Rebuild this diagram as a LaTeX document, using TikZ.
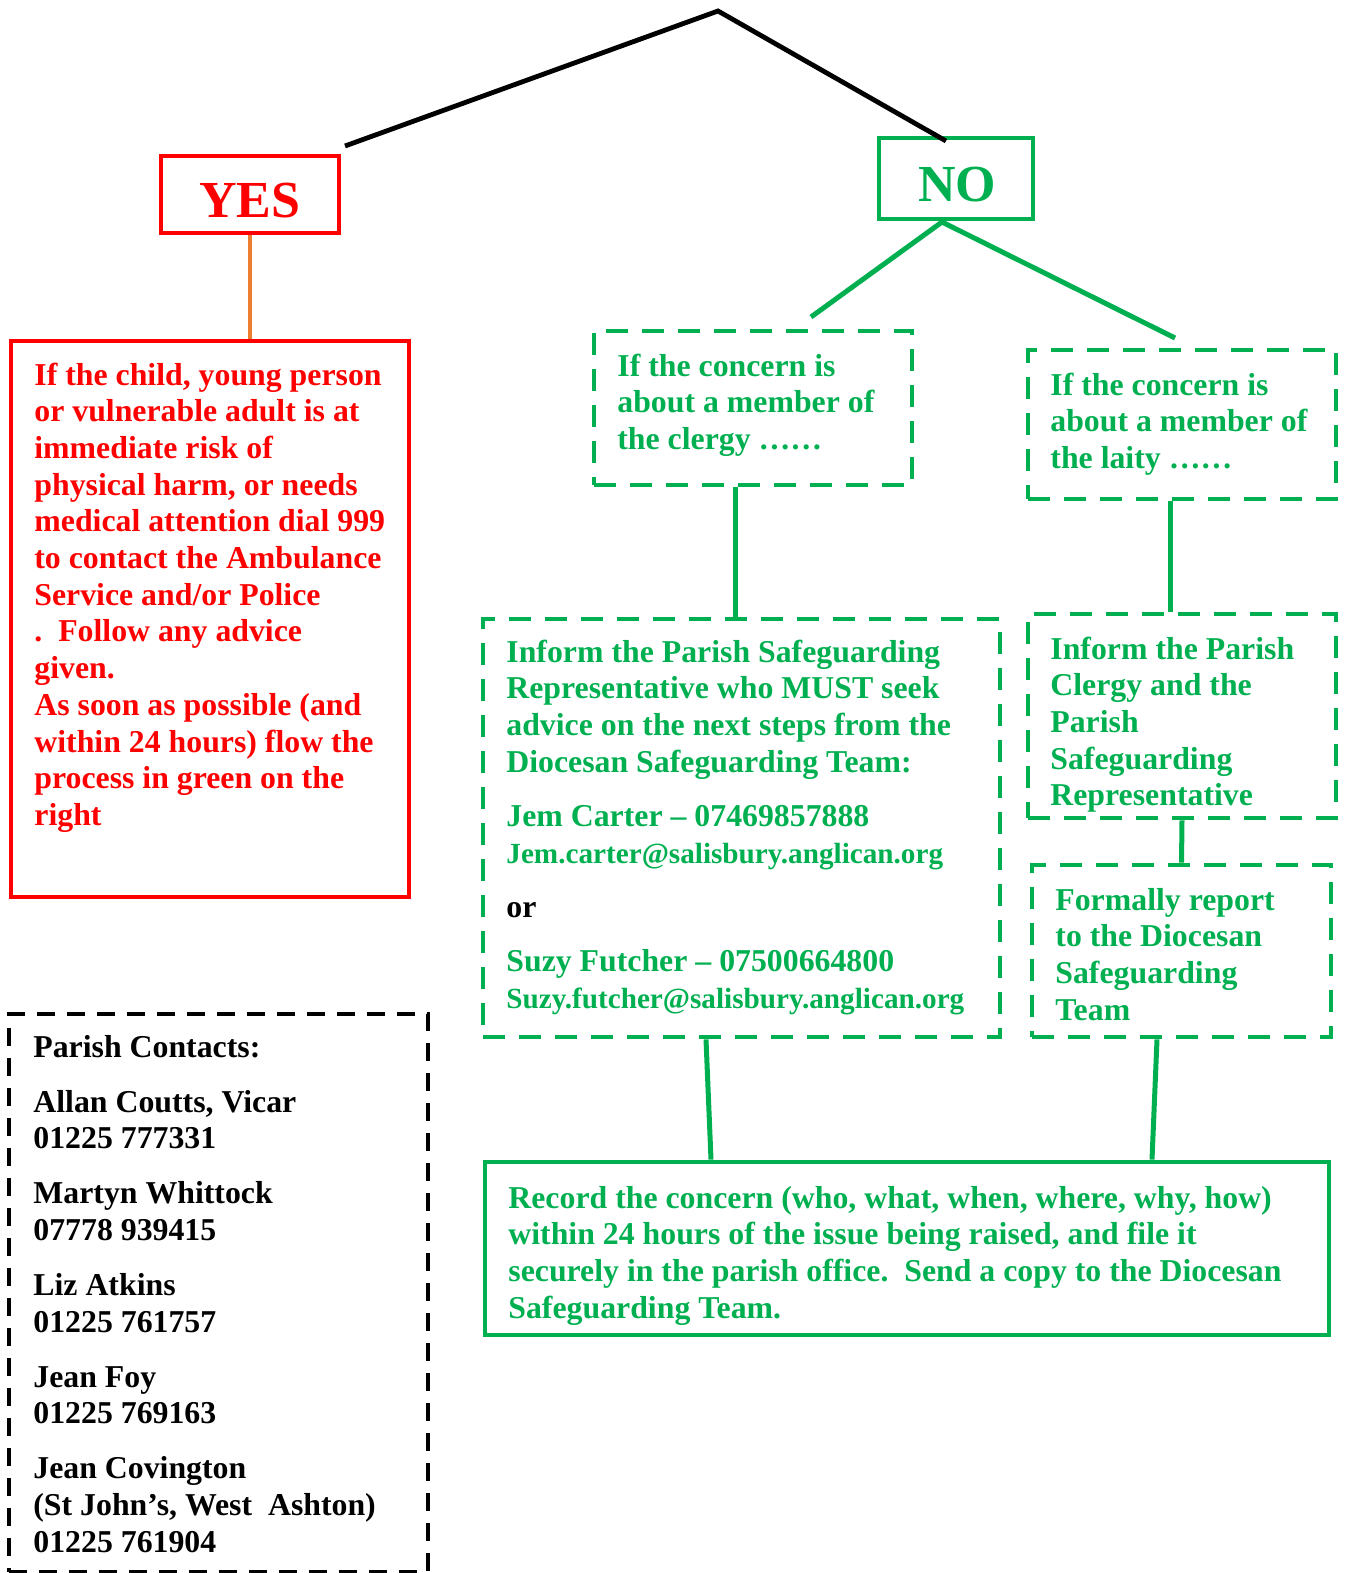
\documentclass[tikz,border=0pt]{standalone}
\usepackage{fontspec}
\setmainfont{Liberation Serif}
\usetikzlibrary{fit}

\definecolor{wgreen}{RGB}{0,176,80}
\definecolor{worange}{RGB}{237,125,49}
\newcommand\bodyfont{\bfseries\fontsize{15.9}{18.35}\selectfont}
\newcommand\mailfont{\fontsize{14.6}{18.35}\selectfont}
\newcommand\bigfont{\bfseries\fontsize{26}{30}\selectfont}

\begin{document}
\begin{tikzpicture}[x=0.5pt, y=-0.5pt,
  redbox/.style={draw=red, line width=2.4pt, inner sep=0pt},
  greenbox/.style={draw=wgreen, line width=2.4pt, inner sep=0pt},
  greendash/.style={greenbox, dash pattern=on 11pt off 7pt},
  blackdash/.style={draw=black, line width=2.4pt, inner sep=0pt, dash pattern=on 9pt off 6pt},
  txt/.style={anchor=base west, inner sep=0pt, align=left, font=\bodyfont},
  greenline/.style={draw=wgreen, line width=2.5pt}]

\useasboundingbox (0,0) rectangle (1351,1573);

% question boxes
\node[redbox, fit={(161,156) (339,233)}] (yes) {};
\node[anchor=base, inner sep=0pt, font=\bigfont, text=red] (yestxt) at (250,218) {YES};
\node[greenbox, fit={(879,138) (1033,219)}] (no) {};
\node[anchor=base, inner sep=0pt, font=\bigfont, text=wgreen] (notxt) at (957,202) {NO};

% yes side (text placed by its last baseline)
\node[redbox, fit={(11,341) (409,897)}] (risk) {};
\node[txt, text=red] (risktxt) at (34,825.4) {If the child, young person\\or vulnerable adult is at\\immediate risk of\\physical harm, or needs\\medical attention dial 999\\to contact the Ambulance\\Service and/or Police\\.\ \ Follow any advice\\given.\\As soon as possible (and\\within 24 hours) flow the\\process in green on the\\right};

% no side
\node[greendash, fit={(594,331) (912,485)}] (clergy) {};
\node[txt, text=wgreen] (clergytxt) at (617,449.4) {If the concern is\\about a member of\\the clergy ……};
\node[greendash, fit={(1028,350) (1336,499)}] (laity) {};
\node[txt, text=wgreen] (laitytxt) at (1050,468.4) {If the concern is\\about a member of\\the laity ……};

\node[greendash, fit={(483,619) (1000,1037)}] (inform) {};
\node[txt, text=wgreen] (informtxt) at (506,1008) {Inform the Parish Safeguarding\\Representative who MUST seek\\advice on the next steps from the\\Diocesan Safeguarding Team:\\[8.7pt]Jem Carter -- 07469857888\\{\mailfont Jem.carter@salisbury.anglican.org}\\[8.7pt]{\color{black}or}\\[8.7pt]Suzy Futcher -- 07500664800\\{\mailfont Suzy.futcher@salisbury.anglican.org}};

\node[greendash, fit={(1028,614) (1336,818)}] (parish) {};
\node[txt, text=wgreen] (parishtxt) at (1050,805.8) {Inform the Parish\\Clergy and the\\Parish\\Safeguarding\\Representative};
\node[greendash, fit={(1032,865) (1331,1037)}] (formal) {};
\node[txt, text=wgreen] (formaltxt) at (1055,1020.1) {Formally report\\to the Diocesan\\Safeguarding\\Team};

\node[greenbox, fit={(485,1162) (1329,1335)}] (record) {};
\node[txt, text=wgreen] (recordtxt) at (508,1318.1) {Record the concern (who, what, when, where, why, how)\\within 24 hours of the issue being raised, and file it\\securely in the parish office.\ \ Send a copy to the Diocesan\\Safeguarding Team.};

% contacts
\node[blackdash, fit={(9,1014) (428,1572)}] (contacts) {};
\node[txt] (contactstxt) at (33,1552.2) {Parish Contacts:\\[9.15pt]Allan Coutts, Vicar\\01225 777331\\[9.15pt]Martyn Whittock\\07778 939415\\[9.15pt]Liz Atkins\\01225 761757\\[9.15pt]Jean Foy\\01225 769163\\[9.15pt]Jean Covington\\(St John’s, West\ \ Ashton)\\01225 761904};

% connectors
\coordinate (apex) at (718,11);
\coordinate (yesend) at (345,146);
\coordinate (noend) at (946,141);
\draw[line width=2.4pt] (yesend) -- (apex) -- (noend);
\draw[worange, line width=1.6pt] (yes.south) -- (yes.south |- risk.north);

\coordinate (nofoot) at (942,222);
\coordinate (clergyin) at (811,317);
\coordinate (laityin) at (1175,338);
\draw[greenline] (clergyin) -- (nofoot) -- (laityin);

\coordinate (clergycol) at (735,0);
\coordinate (laitycol) at (1170,0);
\coordinate (linkA) at (706,0);
\coordinate (linkB) at (711,0);
\coordinate (linkC) at (1157,0);
\coordinate (linkD) at (1152,0);
\draw[greenline] (clergy.south -| clergycol) -- (inform.north -| clergycol);
\draw[greenline] (laity.south -| laitycol) -- (parish.north -| laitycol);
\draw[greenline] (parish.south) -- (formal.north);
\draw[greenline] (inform.south -| linkA) -- (record.north -| linkB);
\draw[greenline] (formal.south -| linkC) -- (record.north -| linkD);
\end{tikzpicture}
\end{document}
